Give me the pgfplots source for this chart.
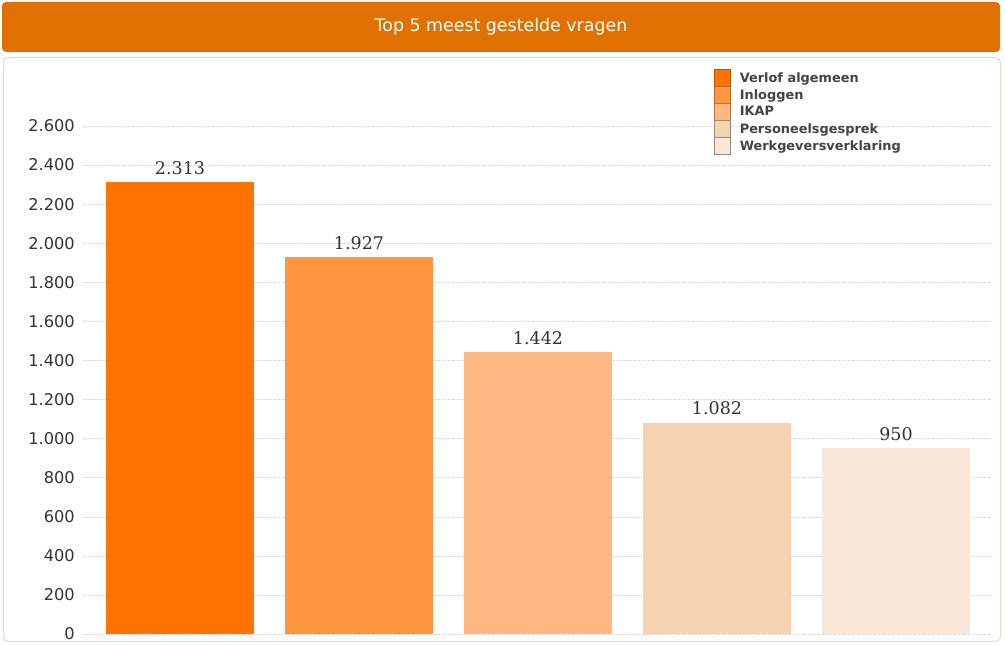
\documentclass[border=0pt]{standalone}
\usepackage{pgfplots}
\pgfplotsset{compat=1.18}
\usepackage{fontspec}
\setmainfont{DejaVu Sans}
\newfontfamily\seriffont{DejaVu Serif}
\definecolor{cA}{HTML}{FF7300}
\definecolor{cB}{HTML}{FF963E}
\definecolor{cC}{HTML}{FFB882}
\definecolor{cD}{HTML}{F5D3B0}
\definecolor{cE}{HTML}{F9E8D9}
\definecolor{banner}{HTML}{E07000}
\definecolor{panel}{HTML}{E8DAC4}
\definecolor{txt}{HTML}{333333}
\definecolor{legtxt}{HTML}{444444}
\begin{document}
\begin{tikzpicture}[x=1pt,y=1pt]
\useasboundingbox (0,0) rectangle (1005,645);
\fill[banner, rounded corners=4pt] (2,593) rectangle (1000,643);
\node[white, font=\fontsize{17.4}{20}\selectfont] at (501,618) {Top 5 meest gestelde vragen};
\draw[panel, line width=1pt, rounded corners=5pt] (3.5,3.5) rectangle (1000.5,587.5);
\begin{axis}[
  at={(83pt,11pt)}, anchor=south west,
  scale only axis, width=907pt, height=508pt,
  xmin=-0.542, xmax=4.525, ymin=0, ymax=2600,
  axis line style={draw=none},
  major tick length=0pt,
  xtick=\empty,
  ytick={0,200,...,2600},
  ymajorgrids,
  grid style={black!16, dash pattern=on 1.5pt off 1pt},
  /pgf/number format/assume math mode=true,
  /pgf/number format/1000 sep={.},
  yticklabel style={font=\fontsize{16.2}{18}\selectfont, text=txt, anchor=east, inner sep=0pt, xshift=-8pt},
  ybar, bar width=0.827, bar shift=0pt,
  nodes near coords,
  every node near coord/.append style={font=\seriffont\fontsize{17.5}{19}\selectfont, text=txt, inner sep=7.5pt},
  legend style={at={(0.6957,1.1122)}, anchor=north west, draw=none, fill=none,
    font=\bfseries\fontsize{12.9}{14}\selectfont, text=legtxt,
    row sep=0pt, inner sep=0pt, nodes={inner sep=0pt},
    /tikz/every odd column/.append style={column sep=9pt}},
  legend cell align=left,
  legend image code/.code={\draw[#1, draw opacity=1, line width=0.6pt] (0pt,-8pt) rectangle (16pt,8.4pt);},
]
\addplot[fill=cA, draw=cA!75!black, draw opacity=0] coordinates {(0,2313)};
\addplot[fill=cB, draw=cB!70!black, draw opacity=0] coordinates {(1,1927)};
\addplot[fill=cC, draw=cC!65!black, draw opacity=0] coordinates {(2,1442)};
\addplot[fill=cD, draw=cD!65!black, draw opacity=0] coordinates {(3,1082)};
\addplot[fill=cE, draw=cE!60!black, draw opacity=0] coordinates {(4,950)};
\legend{Verlof algemeen, Inloggen, IKAP, Personeelsgesprek, Werkgeversverklaring}
\end{axis}
\end{tikzpicture}
\end{document}
